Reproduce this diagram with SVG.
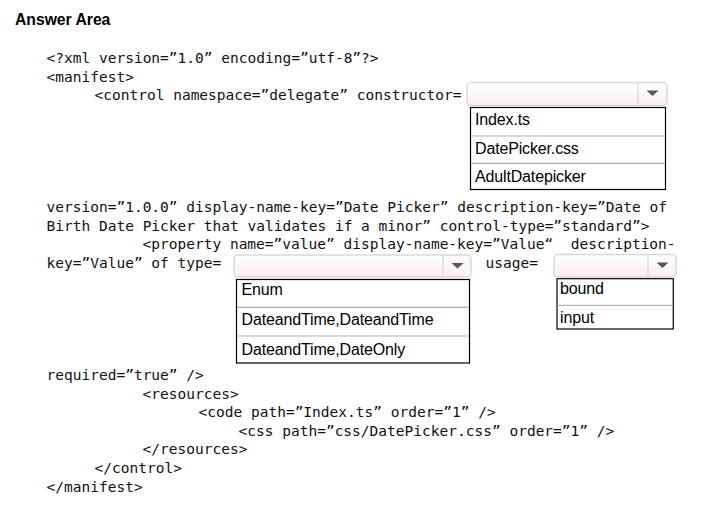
<svg xmlns="http://www.w3.org/2000/svg" width="722" height="516" viewBox="0 0 722 516">
<style>
.title{font-family:"Liberation Sans",Arial,sans-serif;font-weight:bold;font-size:15.7px;fill:#000}
.code{font-family:"DejaVu Sans Mono","Liberation Mono",monospace;font-size:14.53px;fill:#111;white-space:pre}
.opt{font-family:"Liberation Sans",Arial,sans-serif;font-size:16px;fill:#000;letter-spacing:-0.15px}
.box{fill:url(#g);stroke:#d9d9d9;stroke-width:1.5}
.sep{stroke:#d6d6d6;stroke-width:1.2}
.arrow{fill:#555}
.list{fill:#fff;stroke:#000;stroke-width:1.2}
.div{stroke:#b4b4b4;stroke-width:1.2}
</style>
<defs>
<linearGradient id="g" x1="0" y1="0" x2="0" y2="1">
<stop offset="0" stop-color="#ffffff"/>
<stop offset="1" stop-color="#fbedf1"/>
</linearGradient>
</defs>
<rect width="722" height="516" fill="#fff"/>
<text class="title" x="15" y="25">Answer Area</text>
<g id="code">
<text class="code" x="46.5" y="63">&lt;?xml version=”1.0” encoding=”utf-8”?&gt;</text>
<text class="code" x="46.5" y="81.7">&lt;manifest&gt;</text>
<text class="code" x="94.5" y="100.3">&lt;control namespace=”delegate” constructor=</text>
<text class="code" x="46.5" y="212">version=”1.0.0” display-name-key=”Date Picker” description-key=”Date of</text>
<text class="code" x="46.5" y="230.6">Birth Date Picker that validates if a minor” control-type=”standard”&gt;</text>
<text class="code" x="142.5" y="249.2">&lt;property name=”value” display-name-key=”Value“  description-</text>
<text class="code" x="46.5" y="267.8">key=”Value” of type=</text>
<text class="code" x="485.5" y="267.8">usage=</text>
<text class="code" x="46.5" y="380">required=”true” /&gt;</text>
<text class="code" x="142.5" y="398.6">&lt;resources&gt;</text>
<text class="code" x="198.5" y="417.2">&lt;code path=”Index.ts” order=”1” /&gt;</text>
<text class="code" x="238.5" y="435.8">&lt;css path=”css/DatePicker.css” order=”1” /&gt;</text>
<text class="code" x="142.5" y="454.4">&lt;/resources&gt;</text>
<text class="code" x="94.5" y="473">&lt;/control&gt;</text>
<text class="code" x="46.5" y="491.6">&lt;/manifest&gt;</text>
</g>
<g id="dropdown-constructor">
<rect class="box" x="467" y="82.5" width="200" height="23" rx="4"/>
<line class="sep" x1="638" y1="83.5" x2="638" y2="104.5"/>
<polygon class="arrow" points="646.5,90.5 658.5,90.5 652.5,96"/>
<rect class="list" x="470.5" y="107.5" width="195" height="82"/>
<line class="div" x1="471" y1="136" x2="665" y2="136"/>
<line class="div" x1="471" y1="163.3" x2="665" y2="163.3"/>
<text class="opt" x="475" y="125">Index.ts</text>
<text class="opt" x="475" y="154">DatePicker.css</text>
<text class="opt" x="475" y="182">AdultDatepicker</text>
</g>
<g id="dropdown-type">
<rect class="box" x="234" y="255" width="237" height="22" rx="4"/>
<line class="sep" x1="443" y1="256" x2="443" y2="276"/>
<polygon class="arrow" points="451.5,263 463.5,263 457.5,268.5"/>
<rect class="list" x="236.5" y="279.5" width="233" height="83.5"/>
<line class="div" x1="237" y1="307.3" x2="469" y2="307.3"/>
<line class="div" x1="237" y1="336" x2="469" y2="336"/>
<text class="opt" x="241.5" y="295">Enum</text>
<text class="opt" x="241.5" y="325">DateandTime,DateandTime</text>
<text class="opt" x="241.5" y="355">DateandTime,DateOnly</text>
</g>
<g id="dropdown-usage">
<rect class="box" x="554" y="254.5" width="122" height="22.5" rx="4"/>
<line class="sep" x1="648" y1="255.5" x2="648" y2="276"/>
<polygon class="arrow" points="656.5,262.5 668.5,262.5 662.5,268"/>
<rect class="list" x="557" y="278.7" width="116.3" height="50.3"/>
<line class="div" x1="557.5" y1="305.3" x2="673" y2="305.3"/>
<text class="opt" x="560" y="293.5">bound</text>
<text class="opt" x="560" y="323">input</text>
</g>
</svg>
